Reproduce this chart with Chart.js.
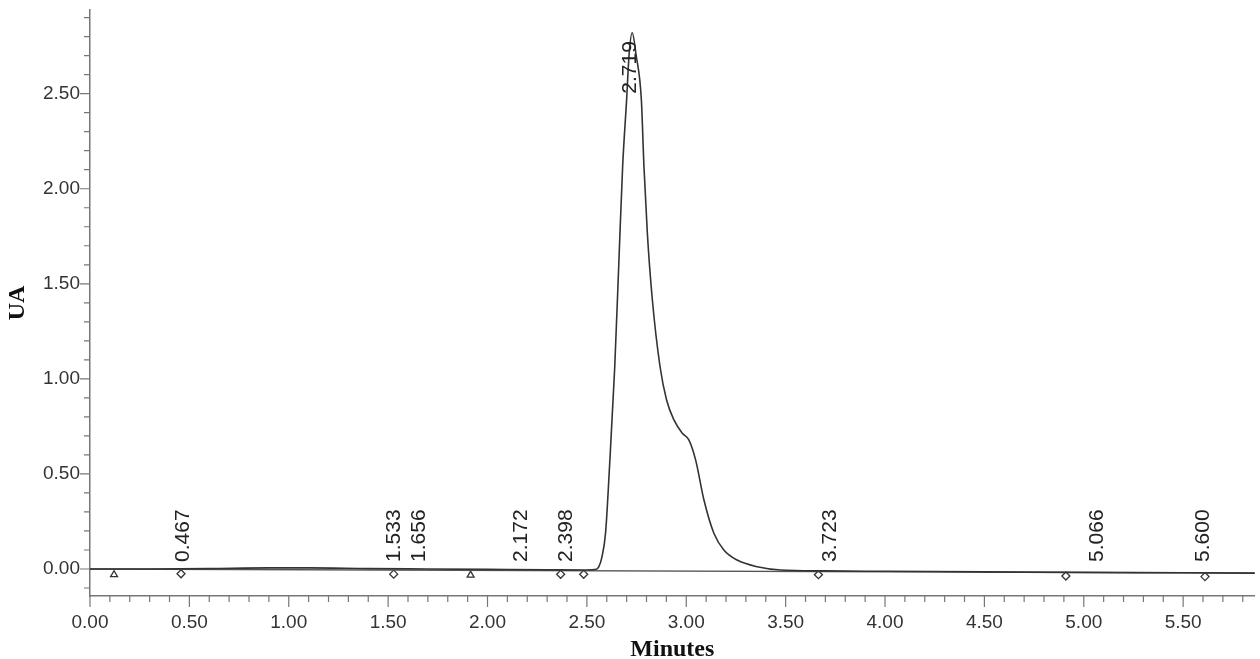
<!DOCTYPE html>
<html>
<head>
<meta charset="utf-8">
<title>Chromatogram</title>
<script src="https://cdn.jsdelivr.net/npm/chart.js@4.4.1/dist/chart.umd.min.js"></script>
<style>
    html, body { margin: 0; padding: 0; background: #fff; }
    #wrap { width: 1260px; height: 659px; position: relative; }
</style>
</head>
<body>
<div id="wrap"><canvas id="chromChart"></canvas></div>
<script>
// signal trace (minutes, UA)
const signalTime = [0.00, 0.30, 0.60, 0.90, 1.10, 1.40, 1.70, 2.00, 2.30, 2.50, 2.54, 2.559, 2.575, 2.594, 2.614,
    2.64, 2.66, 2.68, 2.70, 2.712, 2.728, 2.748, 2.774, 2.787, 2.804, 2.829, 2.868, 2.901, 2.938, 2.980, 3.013,
    3.047, 3.089, 3.139, 3.189, 3.256, 3.357, 3.474, 3.70, 4.00, 4.50, 5.00, 5.50, 5.89];
const signalUA = [0.000, 0.000, 0.002, 0.006, 0.006, 0.002, 0.000, -0.002, -0.004, -0.005, -0.003, 0.010, 0.060, 0.190, 0.540,
    1.060, 1.590, 2.120, 2.470, 2.700, 2.820, 2.700, 2.470, 2.120, 1.770, 1.420, 1.065, 0.889, 0.784, 0.714, 0.679,
    0.574, 0.363, 0.188, 0.100, 0.047, 0.012, -0.005, -0.010, -0.012, -0.015, -0.018, -0.020, -0.022];

// integration baseline
const baselineTime = [0.00, 5.89];
const baselineUA = [0.000, -0.022];

// retention time labels
const peakTimes = [0.467, 1.533, 1.656, 2.172, 2.398, 2.719, 3.723, 5.066, 5.600];
const peakLabels = ['0.467', '1.533', '1.656', '2.172', '2.398', '2.719', '3.723', '5.066', '5.600'];
const peakLabelBase = [0.037, 0.037, 0.037, 0.037, 0.037, 2.50, 0.037, 0.037, 0.037];

// event markers under the baseline
const markerTime = [0.121, 0.458, 1.528, 1.915, 2.368, 2.484, 3.665, 4.910, 5.610];
const markerUA = [-0.030, -0.025, -0.027, -0.032, -0.028, -0.028, -0.030, -0.037, -0.040];
const markerShape = ['triangle', 'rectRot', 'rectRot', 'triangle', 'rectRot', 'rectRot', 'rectRot', 'rectRot', 'rectRot'];

const xTickLabels = ['0.00', '0.50', '1.00', '1.50', '2.00', '2.50', '3.00', '3.50', '4.00', '4.50', '5.00', '5.50'];
const yTickLabels = ['0.00', '0.50', '1.00', '1.50', '2.00', '2.50'];

const tickFont = { family: '"Liberation Sans", Arial, sans-serif', size: 19 };
const titleFont = { family: '"Liberation Serif", "Times New Roman", serif', size: 24, weight: 'bold', lineHeight: 0.8 };

function minorTicks(scale) {
    const out = [];
    const lo = Math.ceil(scale.min * 10 - 1e-6);
    const hi = Math.floor(scale.max * 10 + 1e-6);
    for (let k = lo; k <= hi; k++) out.push({ value: k / 10 });
    scale.ticks = out;
}

const tickMarks = {
    id: 'tickMarks',
    afterDraw(chart) {
        const ctx = chart.ctx;
        const xs = chart.scales.x;
        const ys = chart.scales.y;
        ctx.save();
        ctx.strokeStyle = '#777';
        ctx.lineWidth = 1.2;
        ctx.beginPath();
        xs.ticks.forEach(t => {
            const px = xs.getPixelForValue(t.value);
            const len = xTickLabels.includes(t.value.toFixed(2)) ? 11 : 6;
            ctx.moveTo(px, xs.top);
            ctx.lineTo(px, xs.top + len);
        });
        ys.ticks.forEach(t => {
            const py = ys.getPixelForValue(t.value);
            const len = yTickLabels.includes(t.value.toFixed(2)) ? 10 : 6;
            ctx.moveTo(ys.right, py);
            ctx.lineTo(ys.right - len, py);
        });
        ctx.stroke();
        ctx.restore();
    }
};

const peakText = {
    id: 'peakText',
    afterDatasetsDraw(chart) {
        const ctx = chart.ctx;
        const xs = chart.scales.x;
        const ys = chart.scales.y;
        ctx.save();
        ctx.fillStyle = '#222';
        ctx.font = '21px "Liberation Sans", Arial, sans-serif';
        ctx.textAlign = 'left';
        ctx.textBaseline = 'middle';
        peakTimes.forEach((t, i) => {
            ctx.save();
            ctx.translate(xs.getPixelForValue(t), ys.getPixelForValue(peakLabelBase[i]));
            ctx.rotate(-Math.PI / 2);
            ctx.fillText(peakLabels[i], 0, 0);
            ctx.restore();
        });
        ctx.restore();
    }
};

new Chart(document.getElementById('chromChart'), {
    type: 'line',
    data: {
        datasets: [{
            label: 'Signal',
            data: signalTime.map((t, i) => ({ x: t, y: signalUA[i] })),
            borderColor: '#333',
            borderWidth: 1.6,
            pointRadius: 0,
            cubicInterpolationMode: 'monotone',
            fill: false
        }, {
            label: 'Baseline',
            data: baselineTime.map((t, i) => ({ x: t, y: baselineUA[i] })),
            borderColor: '#555',
            borderWidth: 1.3,
            pointRadius: 0,
            fill: false
        }, {
            label: 'Events',
            data: markerTime.map((t, i) => ({ x: t, y: markerUA[i] })),
            showLine: false,
            pointStyle: markerShape,
            pointRadius: 4,
            pointBorderWidth: 1.3,
            pointBorderColor: '#333',
            pointBackgroundColor: '#fff'
        }]
    },
    options: {
        responsive: true,
        maintainAspectRatio: false,
        animation: false,
        layout: { padding: { top: 10, right: 0, left: 0, bottom: 0 } },
        plugins: {
            legend: { display: false },
            tooltip: { enabled: false }
        },
        scales: {
            x: {
                type: 'linear',
                min: 0,
                max: 5.86,
                afterBuildTicks: minorTicks,
                afterFit(scale) {
                    scale.height = 63;
                    scale.paddingRight = 0;
                },
                grid: { display: true, drawOnChartArea: false, drawTicks: false },
                border: { display: true, color: '#777', width: 1.5 },
                ticks: {
                    autoSkip: false,
                    maxRotation: 0,
                    padding: 15,
                    color: '#333',
                    font: tickFont,
                    callback: v => xTickLabels.includes(v.toFixed(2)) ? v.toFixed(2) : ''
                },
                title: { display: true, text: 'Minutes', color: '#111', font: titleFont, padding: { top: 0, bottom: 0 } }
            },
            y: {
                min: -0.142,
                max: 2.94,
                afterBuildTicks: minorTicks,
                afterFit(scale) {
                    scale.width = 90;
                    scale.paddingTop = 0;
                    scale.paddingBottom = 0;
                },
                grid: { display: true, drawOnChartArea: false, drawTicks: false },
                border: { display: true, color: '#777', width: 1.5 },
                ticks: {
                    autoSkip: false,
                    padding: 10,
                    color: '#333',
                    font: tickFont,
                    callback: v => yTickLabels.includes(v.toFixed(2)) ? v.toFixed(2) : ''
                },
                title: { display: true, text: 'UA', color: '#111', font: titleFont, padding: { top: 8, bottom: 0 } }
            }
        }
    },
    plugins: [tickMarks, peakText]
});
</script>
</body>
</html>
